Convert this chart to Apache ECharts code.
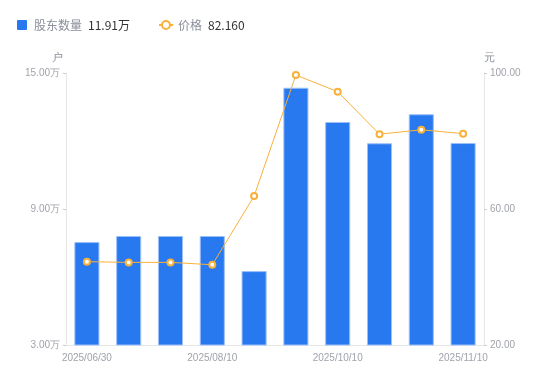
<!DOCTYPE html>
<html><head><meta charset="utf-8">
<script src="https://cdn.jsdelivr.net/npm/echarts@6/dist/echarts.min.js"></script>
<style>html,body{margin:0;padding:0;background:#fff}#c{width:550px;height:381px}</style>
</head><body><div id="c"></div>
<script>
const categories = ['2025/06/30','2025/07/10','2025/07/31','2025/08/10','2025/08/29','2025/09/30','2025/10/10','2025/10/20','2025/10/31','2025/11/10'];
const holders = [7.54, 7.81, 7.81, 7.81, 6.26, 14.35, 12.84, 11.90, 13.18, 11.91];
const prices = [44.5, 44.3, 44.3, 43.6, 63.8, 99.4, 94.5, 82.0, 83.3, 82.16];
const leftTicks = [3, 15, 6];
const rightTicks = [20, 100, 40];

const chart = echarts.init(document.getElementById('c'));
const lastH = holders[holders.length-1];
const lastP = prices[prices.length-1];
chart.setOption({
  animation: false,
  legend: {
    top: 14, left: 12, itemGap: 28, itemWidth: 14, itemHeight: 10,
    data: [
      {name:'股东数量', icon:'path://M1,0H9A1,1 0 0 1 10,1V9A1,1 0 0 1 9,10H1A1,1 0 0 1 0,9V1A1,1 0 0 1 1,0Z', itemStyle:{borderWidth:0}},
      {name:'价格', itemStyle:{borderWidth:1.5}}
    ],
    formatter: function(n){
      return n === '股东数量' ? '{a|' + n + '}{b|' + lastH.toFixed(2) + '万}' : '{a|' + n + '}{b|' + lastP.toFixed(3) + '}';
    },
    textStyle: {
      rich: {
        a: {color:'#8a8e99', fontSize:12, padding:[0,6,0,0], fontFamily:'Noto Sans CJK SC'},
        b: {color:'#333', fontSize:12, fontFamily:'Noto Sans CJK SC'}
      }
    }
  },
  grid: {left: 66, right: 66, top: 73, bottom: 36},
  xAxis: {
    type: 'category', data: categories,
    axisLine: {lineStyle:{color:'#e6e6e6'}},
    axisTick: {show:false},
    axisLabel: {color:'#a0a3ab', fontSize:10, interval: 2, margin: 8}
  },
  yAxis: [{
    type:'value', min: leftTicks[0], max: leftTicks[1], interval: leftTicks[2],
    name:'户', nameTextStyle:{color:'#8a8e99', fontSize:11, padding:[0,18,0,0]}, nameGap: 10,
    axisLine:{show:true, lineStyle:{color:'#e6e6e6'}},
    axisTick:{show:true, length:3, lineStyle:{color:'#ccc'}},
    splitLine:{show:false},
    axisLabel:{color:'#a0a3ab', fontSize:10, margin:6, formatter: v => v.toFixed(2) + '万'}
  },{
    type:'value', min: rightTicks[0], max: rightTicks[1], interval: rightTicks[2],
    name:'元', nameTextStyle:{color:'#8a8e99', fontSize:11, padding:[0,0,0,10]}, nameGap: 10,
    axisLine:{show:true, lineStyle:{color:'#e6e6e6'}},
    axisTick:{show:true, length:3, lineStyle:{color:'#ccc'}},
    splitLine:{show:false},
    axisLabel:{color:'#a0a3ab', fontSize:10, margin:6, formatter: v => v.toFixed(2)}
  }],
  series: [{
    name:'股东数量', type:'bar', data: holders, barWidth:'60%',
    itemStyle:{color:'#2878f0', borderColor:'#9cc0f8', borderWidth:1}
  },{
    name:'价格', type:'line', yAxisIndex:1, data: prices,
    symbol:'emptyCircle', symbolSize:6,
    lineStyle:{color:'#f8b13a', width:1},
    itemStyle:{color:'#f8b13a', borderWidth:2}
  }]
});
</script></body></html>
